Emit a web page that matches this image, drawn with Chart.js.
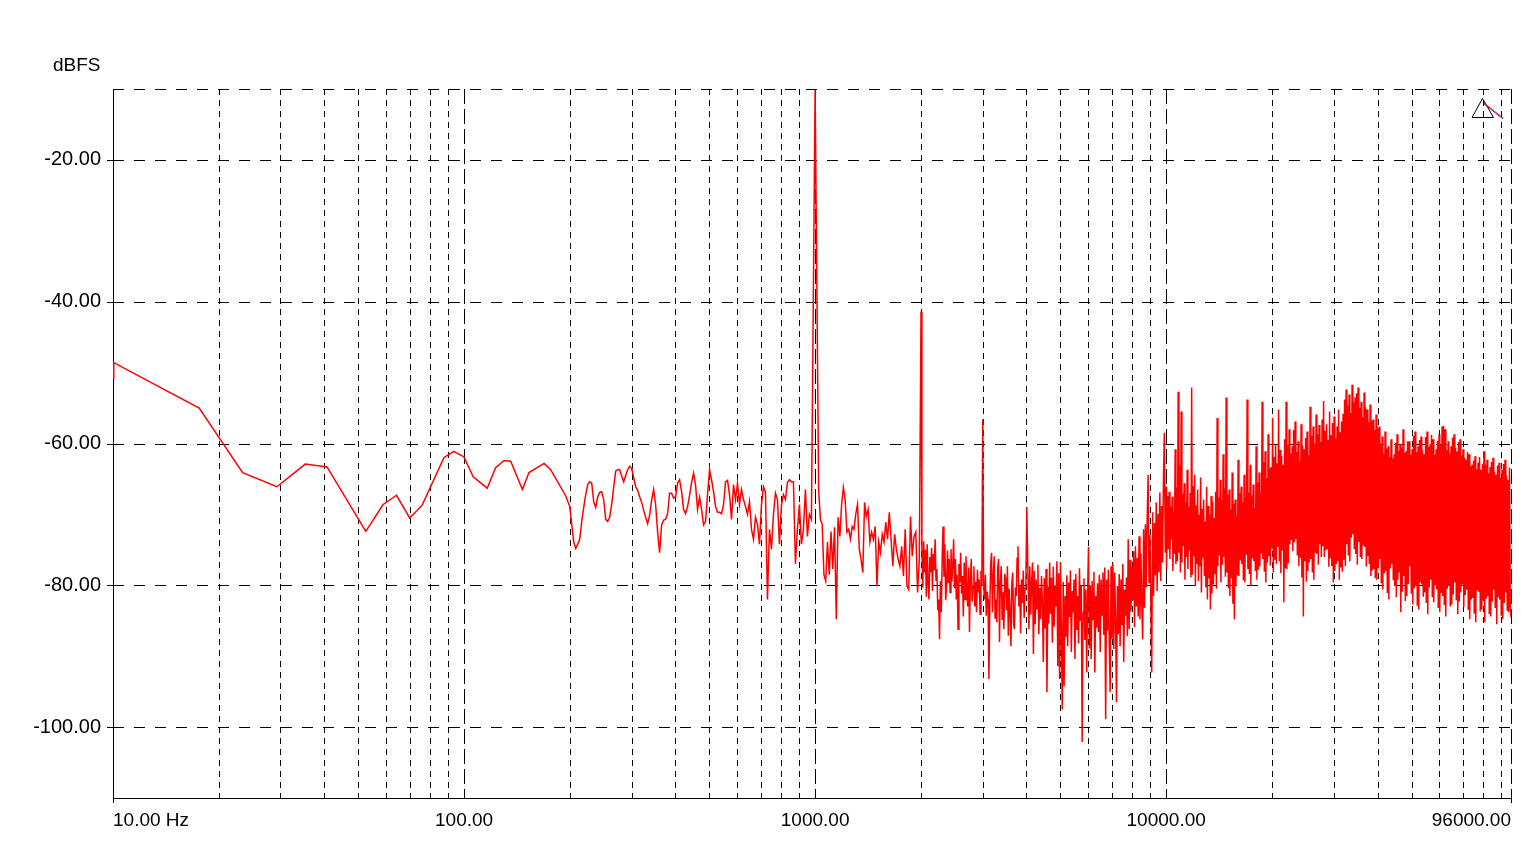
<!DOCTYPE html>
<html>
<head>
<meta charset="utf-8">
<title>dBFS spectrum</title>
<script src="https://cdn.jsdelivr.net/npm/chart.js@4.4.1/dist/chart.umd.min.js"></script>
<style>
  html, body { margin: 0; padding: 0; background: #fff; }
  #wrap { position: relative; width: 1538px; height: 866px; }
</style>
</head>
<body>
<div id="wrap"><canvas id="spectrum"></canvas></div>
<script>
// axis ranges and labels
const xMin = 10, xMax = 96000;
const yMin = -110, yMax = -10;
const yTickValues = [-20, -40, -60, -80, -100];
const xLabelValues = [10, 100, 1000, 10000, 96000];
const xLabelTexts = ['10.00 Hz', '100.00', '1000.00', '10000.00', '96000.00'];
const gridDecades = [10, 100, 1000, 10000];
const gridSteps = [2, 3, 4, 5, 6, 7, 8, 9];

// 10 Hz .. 195 Hz, read point by point
const lowFreqs = [10, 10.05, 17.6, 23.4, 29.3, 35.3, 40.7, 52.5, 58.8, 64.2,
  70.0, 76.0, 87.6, 93.5, 99.9, 106.2, 116.4, 123, 130, 135.8,
  146.6, 153.1, 169, 176.5, 194.9];
const lowLevels = [-50.8, -48.6, -55.0, -64.1, -66.1, -62.9, -63.3, -72.4, -68.6, -67.3,
  -70.5, -68.7, -62.0, -61.1, -61.9, -64.7, -66.3, -63.4, -62.4, -62.5,
  -66.5, -64.1, -62.8, -63.7, -67.4];

// 200 Hz .. 976 Hz, log spaced bins
const midStart = 200, midEnd = 976;
const midLevels = [
  -68.9, -71.4, -73.9, -74.8, -74.2, -73.5, -71.0, -69.0, -67.2, -65.8,
  -65.4, -65.6, -68.2, -69.0, -67.5, -66.9, -66.8, -67.9, -70.7, -71.0,
  -70.4, -68.6, -66.2, -63.9, -63.7, -63.7, -64.6, -65.4, -64.5, -63.7,
  -63.2, -63.5, -64.8, -66.1, -66.6, -67.5, -68.3, -69.4, -70.4, -71.3,
  -70.1, -68.0, -66.5, -68.6, -72.5, -75.4, -71.5, -70.8, -70.7, -69.9,
  -67.0, -67.0, -67.7, -67.5, -65.6, -65.1, -66.8, -69.3, -69.9, -68.9,
  -67.3, -65.5, -64.2, -65.9, -69.3, -67.6, -69.3, -71.5, -71.0, -67.2,
  -63.7, -65.1, -66.8, -68.9, -69.7, -69.7, -69.9, -68.6, -65.4, -65.2,
  -67.2, -70.7, -65.8, -67.9, -65.6, -68.6, -66.5, -67.9, -68.9, -70.0,
  -68.2, -72.1, -73.5, -70.4, -71.4, -74.2, -68.6, -66.1, -66.9, -82.0,
  -72.1, -74.9, -70.0, -67.0, -67.9, -74.2, -68.7, -67.2, -67.9, -65.5,
  -65.1, -65.4, -65.4, -77.0, -72.1, -68.6, -74.2, -72.1, -66.5, -73.1,
  -70.0, -70.7];

// 1 kHz test tone .. 1.98 kHz
const toneStart = 1000, toneEnd = 1981;
const toneLevels = [
  -10.2, -38.0, -66.5, -70.7, -71.4, -78.5, -79.4, -73.9, -78.5, -72.4,
  -77.7, -71.8, -84.8, -70.4, -73.1, -68.6, -66.2, -67.9, -72.5, -72.1,
  -73.5, -71.7, -72.1, -70.0, -68.6, -74.9, -76.3, -78.2, -68.3, -70.3,
  -69.3, -73.9, -72.5, -73.5, -71.7, -80.1, -73.9, -75.4, -72.8, -73.9,
  -71.1, -73.5, -69.7, -73.5, -77.3, -72.8, -74.9, -76.3, -77.3, -74.5,
  -78.7, -72.1, -80.1, -80.6, -70.3, -75.9, -73.1, -72.5, -81.0, -76.3];

// 2 kHz .. 4 kHz, harmonics at 2k, 3k and 4k
const harmStart = 2003, harmEnd = 4009;
const harmLevels = [
  -41.4, -74.9, -80.3, -73.8, -78.2, -75.0, -81.6, -74.2, -79.9, -82.0,
  -76.0, -78.2, -74.7, -80.8, -75.6, -77.9, -73.5, -79.3, -77.7, -83.5,
  -82.0, -87.6, -79.4, -83.8, -76.2, -71.7, -78.8, -74.2, -82.1, -80.1,
  -75.1, -79.7, -76.3, -81.0, -74.9, -79.5, -77.3, -73.5, -80.4, -76.3,
  -82.0, -78.5, -86.2, -77.0, -79.6, -75.4, -81.2, -78.7, -84.4, -76.8,
  -82.0, -75.9, -80.6, -83.0, -77.5, -86.6, -79.0, -76.3, -82.3, -80.1,
  -77.3, -83.0, -79.5, -83.8, -77.8, -81.0, -79.2, -84.1, -78.0, -80.1,
  -56.6, -80.1, -82.0, -78.5, -84.3, -80.9, -82.0, -93.2, -83.4, -77.1,
  -75.4, -83.8, -78.8, -75.9, -84.6, -82.0, -85.2, -77.5, -76.3, -88.0,
  -79.6, -77.3, -84.9, -81.0, -86.2, -78.4, -79.2, -83.5, -77.3, -87.1,
  -80.5, -83.8, -88.6, -79.7, -78.2, -85.4, -86.2, -80.3, -81.5, -76.2,
  -74.5, -83.0, -80.0, -86.8, -79.2, -82.5, -77.9, -84.6, -80.4, -79.1,
  -69.0];

// 4 kHz .. 10 kHz, noise floor dips lowest here
const floorStart = 4040, floorEnd = 10000;
const floorLevels = [
  -78.7, -86.2, -77.3, -84.1, -79.6, -76.8, -89.7, -78.0, -85.5, -79.2,
  -83.3, -77.1, -86.9, -80.4, -84.8, -78.7, -82.6, -90.8, -79.0, -86.1,
  -77.7, -95.1, -80.2, -85.4, -76.8, -84.0, -78.9, -88.1, -77.4, -85.8,
  -80.0, -83.0, -76.6, -91.4, -78.3, -93.2, -76.8, -86.7, -97.5, -79.5,
  -94.2, -81.5, -87.3, -78.6, -88.6, -79.6, -84.5, -77.9, -89.4, -80.8,
  -83.8, -79.2, -90.4, -78.4, -86.3, -81.5, -88.2, -77.6, -85.0, -80.1,
  -102.1, -83.8, -79.0, -87.7, -80.6, -92.3, -81.1, -74.6, -88.9, -80.0,
  -90.4, -79.4, -84.8, -78.1, -92.3, -81.5, -86.0, -79.7, -86.6, -78.5,
  -89.4, -79.2, -84.2, -78.2, -87.0, -77.5, -98.9, -79.2, -86.4, -77.8,
  -88.3, -95.1, -77.3, -87.5, -76.9, -89.0, -78.2, -85.1, -96.5, -80.1,
  -86.9, -78.4, -88.6, -79.2, -85.6, -77.0, -90.8, -80.6, -84.3, -78.9,
  -87.2, -73.5, -86.2, -76.4, -83.7, -77.3, -82.0, -75.2, -85.9, -74.5,
  -83.0, -76.1, -84.4, -73.1, -84.8, -75.5, -82.7, -87.6, -72.1, -83.2,
  -71.4, -80.3, -70.7, -64.4, -79.6, -72.9, -81.9, -92.3, -69.7, -81.5,
  -71.2, -78.6, -68.3, -80.8, -69.9, -78.2, -66.9, -79.4, -68.8, -76.8,
  -65.1, -58.5, -75.4, -66.1];

// 10 kHz .. 96 kHz, dense noise floor
const highStart = 10000, highEnd = 96000;
const highLevels = [
  -66.1, -77.7, -67.4, -74.9, -66.8, -76.3, -68.9, -73.5, -67.5, -78.0,
  -69.6, -75.6, -60.8, -77.0, -66.2, -76.6, -52.7, -75.4, -63.0, -78.2,
  -55.5, -76.8, -67.1, -74.5, -65.6, -79.2, -68.4, -76.0, -63.7, -77.7,
  -69.0, -75.1, -67.0, -78.9, -52.1, -78.5, -66.0, -75.9, -64.4, -80.1,
  -68.7, -77.0, -66.5, -79.4, -70.1, -77.3, -64.8, -81.0, -69.2, -76.1,
  -67.9, -78.7, -71.0, -80.3, -66.1, -82.0, -68.8, -79.0, -70.0, -83.4,
  -67.4, -81.2, -68.2, -79.9, -70.5, -78.4, -66.8, -80.5, -56.4, -77.3,
  -67.7, -75.8, -65.1, -79.6, -68.0, -77.1, -61.5, -76.0, -66.3, -78.8,
  -53.5, -78.2, -67.2, -80.4, -66.5, -81.5, -69.3, -79.0, -64.1, -82.6,
  -68.5, -84.8, -67.9, -80.1, -70.2, -78.6, -62.3, -78.7, -67.0, -76.5,
  -66.1, -77.0, -68.3, -79.3, -64.4, -79.6, -67.6, -75.7, -53.8, -77.7,
  -66.9, -78.4, -63.0, -80.1, -67.3, -76.2, -65.8, -76.6, -69.1, -78.0,
  -60.4, -79.2, -65.5, -77.8, -64.1, -77.3, -67.0, -75.5, -54.1, -76.3,
  -62.6, -78.1, -61.1, -79.6, -64.9, -76.8, -58.7, -75.9, -63.5, -77.2,
  -63.3, -74.8, -56.4, -78.2, -61.9, -76.4, -60.1, -77.0, -62.8, -74.6,
  -55.2, -76.6, -60.9, -78.3, -61.8, -75.1, -63.0, -82.4, -59.4, -77.6,
  -54.1, -77.7, -60.2, -76.9, -58.0, -74.2, -61.4, -73.6, -60.4, -75.2,
  -58.1, -73.9, -56.9, -73.5, -61.2, -75.8, -59.7, -77.3, -62.5, -76.1,
  -57.3, -78.9, -60.3, -84.4, -60.8, -76.6, -59.2, -79.5, -58.3, -78.0,
  -61.7, -76.8, -54.8, -76.3, -58.9, -78.2, -57.6, -79.2, -60.0, -75.4,
  -55.9, -75.6, -58.7, -77.1, -57.4, -74.2, -59.8, -76.0, -56.6, -74.5,
  -54.0, -76.0, -58.2, -75.1, -57.3, -74.9, -59.5, -77.4, -55.5, -76.2,
  -58.8, -77.3, -57.1, -79.6, -56.2, -78.0, -59.3, -77.0, -57.6, -76.6,
  -55.2, -79.2, -58.4, -77.5, -56.9, -78.1, -55.8, -76.4, -53.8, -77.3,
  -52.4, -74.2, -54.6, -75.8, -53.1, -76.6, -55.7, -73.3, -51.7, -72.8,
  -54.2, -74.9, -53.5, -75.6, -52.9, -77.1, -52.1, -73.9, -55.0, -76.0,
  -54.1, -76.3, -56.3, -74.4, -52.8, -74.6, -54.9, -77.4, -55.2, -75.9,
  -57.0, -77.0, -54.5, -78.7, -56.8, -77.9, -56.6, -77.7, -58.1, -79.0,
  -55.9, -79.2, -57.9, -77.6, -57.6, -76.3, -60.0, -79.7, -59.0, -80.6,
  -61.4, -78.3, -58.3, -78.0, -60.7, -81.1, -60.4, -82.0, -61.9, -77.6,
  -59.4, -77.0, -62.1, -79.3, -61.5, -80.1, -59.9, -81.7, -58.7, -79.2,
  -61.0, -78.2, -60.1, -83.8, -60.6, -80.9, -58.0, -78.7, -61.3, -82.2,
  -61.1, -81.5, -59.7, -79.8, -59.7, -77.3, -61.6, -81.2, -60.8, -82.7,
  -58.9, -80.4, -58.3, -80.1, -61.2, -82.9, -60.4, -83.4, -59.5, -79.6,
  -59.0, -79.9, -61.0, -81.6, -61.5, -81.0, -59.1, -82.5, -58.3, -84.1,
  -60.5, -80.3, -60.1, -79.2, -58.8, -81.7, -59.4, -82.4, -61.6, -80.0,
  -60.8, -80.6, -59.6, -83.2, -58.7, -83.8, -60.2, -81.1, -57.6, -81.5,
  -57.5, -82.8, -58.0, -84.4, -60.9, -80.5, -59.7, -80.1, -61.4, -83.0,
  -60.4, -82.7, -59.2, -81.3, -58.7, -79.6, -60.6, -82.1, -61.1, -84.1,
  -59.8, -82.3, -59.4, -81.0, -61.7, -79.9, -60.8, -83.1, -62.0, -81.4,
  -62.3, -80.6, -61.2, -83.5, -61.5, -84.8, -63.2, -82.0, -63.0, -81.8,
  -62.4, -84.0, -61.8, -85.2, -63.6, -80.7, -62.7, -80.9, -61.9, -83.7,
  -63.7, -83.4, -62.9, -82.1, -61.1, -85.2, -63.0, -81.9, -62.3, -81.5,
  -64.2, -84.1, -63.3, -84.4, -62.6, -82.3, -62.0, -80.6, -64.0, -83.2,
  -64.4, -85.5, -63.1, -81.7, -62.7, -82.0, -64.8, -84.3, -63.7, -84.8,
  -62.9, -82.5, -62.3, -81.0, -64.5, -83.6, -65.1, -83.8, -63.4, -82.9,
  -84.5];

// spread a run of levels over log spaced bins between two frequencies
function logBins(f0, f1, levels) {
  const n = levels.length;
  return levels.map((v, i) => ({ x: f0 * Math.pow(f1 / f0, i / (n - 1)), y: v }));
}

const points = lowFreqs.map((f, i) => ({ x: f, y: lowLevels[i] }))
  .concat(logBins(midStart, midEnd, midLevels))
  .concat(logBins(toneStart, toneEnd, toneLevels))
  .concat(logBins(harmStart, harmEnd, harmLevels))
  .concat(logBins(floorStart, floorEnd, floorLevels))
  .concat(logBins(highStart, highEnd, highLevels));

const FONT = '"Liberation Sans", Arial, sans-serif';
const crisp = v => Math.round(v) + 0.5;

// dashed grid, axes, tick marks and the extra labels
const framePlugin = {
  id: 'frame',
  beforeDatasetsDraw(chart) {
    const { ctx, chartArea: a, scales: { x, y } } = chart;
    ctx.save();
    ctx.strokeStyle = '#000';
    ctx.lineWidth = 1;
    const vline = (px, dash) => {
      ctx.setLineDash(dash);
      ctx.beginPath(); ctx.moveTo(px, a.top); ctx.lineTo(px, a.bottom); ctx.stroke();
    };
    const hline = (py, dash) => {
      ctx.setLineDash(dash);
      ctx.beginPath(); ctx.moveTo(a.left, py); ctx.lineTo(a.right, py); ctx.stroke();
    };
    gridDecades.forEach(d => gridSteps.forEach(m => {
      if (d * m < xMax) vline(crisp(x.getPixelForValue(d * m)), [6, 5]);
    }));
    gridDecades.slice(1).forEach(d => vline(crisp(x.getPixelForValue(d)), [15, 5]));
    vline(crisp(a.right), [15, 5]);
    yTickValues.concat([yMax]).forEach(v => hline(crisp(y.getPixelForValue(v)), [11, 10]));

    // solid left and bottom axes
    ctx.setLineDash([]);
    ctx.beginPath();
    ctx.moveTo(crisp(a.left), a.top); ctx.lineTo(crisp(a.left), a.bottom);
    ctx.moveTo(a.left, crisp(a.bottom)); ctx.lineTo(a.right + 1, crisp(a.bottom));
    yTickValues.forEach(v => {
      const py = crisp(y.getPixelForValue(v));
      ctx.moveTo(a.left - 6, py); ctx.lineTo(a.left, py);
    });
    [xMin, xMax].forEach(v => {
      const px = crisp(x.getPixelForValue(v));
      ctx.moveTo(px, a.bottom); ctx.lineTo(px, a.bottom + 5);
    });
    ctx.stroke();
    ctx.restore();
  },
  afterDraw(chart) {
    const { ctx, chartArea: a, scales: { x } } = chart;
    ctx.save();
    ctx.fillStyle = '#000';
    ctx.font = '19px ' + FONT;
    ctx.textBaseline = 'middle';
    xLabelValues.forEach((v, i) => {
      ctx.textAlign = i === 0 ? 'left' : (i === xLabelValues.length - 1 ? 'right' : 'center');
      ctx.fillText(xLabelTexts[i], x.getPixelForValue(v), a.bottom + 23);
    });
    ctx.textAlign = 'left';
    ctx.fillText('dBFS', a.left - 60, a.top - 23);

    // little cursor marker in the top right corner
    const tx = a.right - 29, ty = a.top + 9;
    ctx.strokeStyle = '#000';
    ctx.lineWidth = 1;
    ctx.beginPath();
    ctx.moveTo(tx + 0.5, ty + 0.5); ctx.lineTo(tx - 10, ty + 19.5); ctx.lineTo(tx + 11.5, ty + 19.5); ctx.closePath();
    ctx.stroke();
    ctx.strokeStyle = '#3344ff';
    ctx.beginPath(); ctx.moveTo(tx + 2, ty + 6); ctx.lineTo(tx + 21, ty + 21); ctx.stroke();
    ctx.strokeStyle = '#ff0000';
    ctx.beginPath(); ctx.moveTo(tx + 2, ty + 5); ctx.lineTo(tx + 21, ty + 20); ctx.stroke();
    ctx.restore();
  }
};

new Chart(document.getElementById('spectrum'), {
  type: 'line',
  data: {
    datasets: [{
      data: points,
      borderColor: '#ff0000',
      borderWidth: 1.5,
      pointRadius: 0,
      tension: 0,
      fill: false
    }]
  },
  options: {
    responsive: true,
    maintainAspectRatio: false,
    animation: false,
    parsing: false,
    layout: { padding: { top: 89, right: 27, left: 0, bottom: 0 } },
    plugins: { legend: { display: false }, tooltip: { enabled: false } },
    scales: {
      x: {
        type: 'logarithmic', min: xMin, max: xMax,
        afterFit: s => { s.height = 68; },
        ticks: { display: false },
        grid: { display: false },
        border: { display: false }
      },
      y: {
        type: 'linear', min: yMin, max: yMax,
        afterBuildTicks: s => { s.ticks = yTickValues.map(v => ({ value: v })); },
        afterFit: s => { s.width = 113; },
        grid: { display: false, drawTicks: false },
        border: { display: false },
        ticks: {
          padding: 12,
          color: '#000',
          font: { family: FONT, size: 20 },
          callback: v => v.toFixed(2)
        }
      }
    }
  },
  plugins: [framePlugin]
});
</script>
</body>
</html>
